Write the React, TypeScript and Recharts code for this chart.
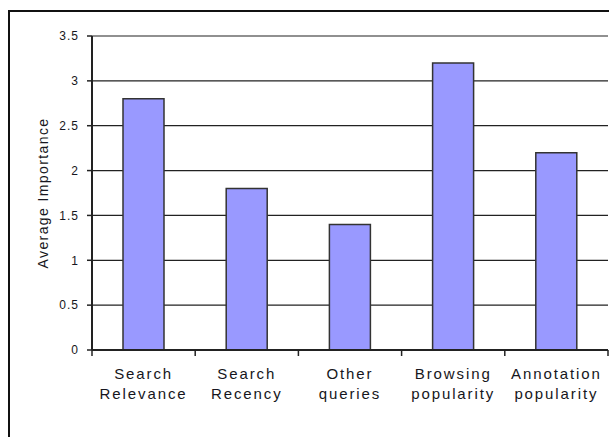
import { BarChart, Bar, XAxis, YAxis, CartesianGrid } from "recharts";

const categories = [
  ["Search", "Relevance"],
  ["Search", "Recency"],
  ["Other", "queries"],
  ["Browsing", "popularity"],
  ["Annotation", "popularity"],
];
const importance = [2.8, 1.8, 1.4, 3.2, 2.2];
const yTicks = [0, 0.5, 1, 1.5, 2, 2.5, 3, 3.5];

const data = categories.map((lines, i) => ({
  name: lines.join(" "),
  value: importance[i],
}));

const ink = "#161620";
const font = "'Liberation Sans', Arial, sans-serif";

// two-line label, plus small marks at the category boundaries
function CategoryTick(props: any) {
  const { x, y, index, width, visibleTicksCount } = props;
  const [first, second] = categories[index];
  const half = width / visibleTicksCount / 2;
  const last = index === visibleTicksCount - 1;
  return (
    <g>
      <line x1={x - half} x2={x - half} y1={y} y2={y + 6} stroke="#222" strokeWidth={1.5} />
      {last && <line x1={x + half} x2={x + half} y1={y} y2={y + 6} stroke="#222" strokeWidth={1.5} />}
      <text
        x={x}
        y={y}
        textAnchor="middle"
        fill={ink}
        fontSize={15}
        fontFamily={font}
        letterSpacing={1.9}
      >
        <tspan x={x} dy={29}>{first}</tspan>
        <tspan x={x} dy={20}>{second}</tspan>
      </text>
    </g>
  );
}

export default function App() {
  return (
    <div style={{ position: "relative", width: 609, height: 437, overflow: "hidden", background: "#fff" }}>
      <style>{`body{margin:0}`}</style>
      <div
        style={{
          position: "absolute",
          left: 8,
          top: 10,
          width: 601,
          height: 427,
          borderLeft: "2px solid #111",
          borderTop: "2px solid #111",
          boxSizing: "border-box",
        }}
      />
      <div style={{ position: "absolute", left: 0, top: 0 }}>
        <BarChart
          width={609}
          height={437}
          data={data}
          margin={{ top: 36, right: 1, bottom: 27, left: 0 }}
          barCategoryGap="0%"
        >
          <CartesianGrid vertical={false} stroke="#222" strokeWidth={1.2} />
          <XAxis
            dataKey="name"
            height={60}
            axisLine={{ stroke: "#222", strokeWidth: 2 }}
            tickLine={false}
            tickSize={0}
            tickMargin={0}
            interval={0}
            tick={<CategoryTick />}
          />
          <YAxis
            width={92}
            domain={[0, 3.5]}
            ticks={yTicks}
            tickSize={5}
            tickMargin={8}
            axisLine={{ stroke: "#222", strokeWidth: 2 }}
            tickLine={{ stroke: "#222", strokeWidth: 1.5 }}
            tick={{ fill: ink, fontSize: 12, fontFamily: font, letterSpacing: 1 }}
            label={{
              value: "Average Importance",
              angle: -90,
              position: "insideLeft",
              offset: 43,
              textAnchor: "middle",
              fill: ink,
              fontSize: 14,
              fontFamily: font,
              letterSpacing: 1.4,
            }}
          />
          <Bar
            dataKey="value"
            fill="#9999FF"
            stroke="#333"
            strokeWidth={1.5}
            barSize={41}
            isAnimationActive={false}
          />
        </BarChart>
      </div>
    </div>
  );
}
